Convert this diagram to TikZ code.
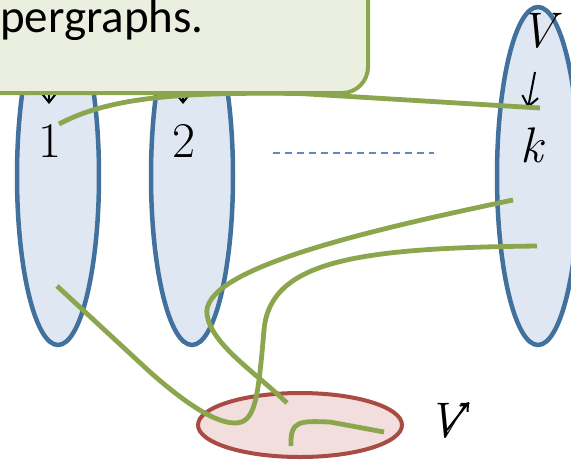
\documentclass[tikz,border=0pt]{standalone}
\usepackage{fontspec}
\newfontfamily\calib{Carlito}
\usetikzlibrary{arrows.meta}
\definecolor{setblue}{HTML}{41719C}
\definecolor{setfill}{HTML}{DEE7F2}
\definecolor{redline}{HTML}{A84B44}
\definecolor{redfill}{HTML}{F2DEDD}
\definecolor{edgegreen}{HTML}{8BA64C}
\definecolor{callfill}{HTML}{EBEFE0}
\definecolor{dashblue}{HTML}{5B8CC8}
\tikzset{
  setell/.style={draw=setblue, fill=setfill, line width=4.5pt},
  hedge/.style={draw=edgegreen, line width=4.8pt},
  lab/.style={inner sep=0pt, font=\fontsize{50}{52}\selectfont},
  thinarrow/.style={line width=2pt, -{Straight Barb[length=10pt,width=16pt,line width=2pt]}}
}
\begin{document}
\begin{tikzpicture}[x=1pt,y=-1pt]
\useasboundingbox (0,0) rectangle (571,459);
\clip (0,0) rectangle (571,459);
% vertex sets
\draw[setell] (58,176) ellipse [x radius=41, y radius=169];
\draw[setell] (192,176) ellipse [x radius=41, y radius=169];
\draw[setell] (538,176) ellipse [x radius=41, y radius=169];
\draw[draw=redline, fill=redfill, line width=4pt] (300,425) ellipse [x radius=102, y radius=32];
% labels
\node[lab] (one) at (50,141) {1};
\node[lab] (two) at (184,141) {2};
\node[lab] (vk) at (538,31) {\itshape V};
\node[lab] (k) at (532,145) {\itshape k};
\node[lab] (vp) at (446,421) {\itshape V};
\coordinate (a1s) at (49,70);
\coordinate (a1e) at (49,104);
\coordinate (a2s) at (183,70);
\coordinate (a2e) at (183,104);
\coordinate (aks) at (535,72);
\coordinate (ake) at (528,108);
\coordinate (avs) at (447,430);
\coordinate (ave) at (469,402);
\draw[thinarrow] (a1s) -- (a1e);
\draw[thinarrow] (a2s) -- (a2e);
\draw[thinarrow] (aks) -- (ake);
\draw[line width=2pt, -{Straight Barb[length=7pt,width=10pt,line width=2pt]}] (avs) -- (ave);
% dots
\coordinate (d1) at (273,153);
\coordinate (d2) at (434,153);
\draw[dashblue, line width=1.6pt, dash pattern=on 7pt off 5pt] (d1) -- (d2);
% hyperedges
\coordinate (e1a) at (59,124);
\coordinate (e1b) at (300,93.5);
\coordinate (e1c) at (540,108);
\draw[hedge] (e1a) .. controls (110,97) and (180,92) .. (e1b) -- (e1c);
\coordinate (eAa) at (513,200);
\coordinate (eAb) at (207,315);
\coordinate (eAc) at (287,403);
\draw[hedge] (eAa) .. controls (360,232) and (200,270) .. (eAb) .. controls (212,345) and (255,372) .. (eAc);
\coordinate (eBa) at (537,246);
\coordinate (eBb) at (264,330);
\coordinate (eBc) at (235,423);
\coordinate (eBd) at (150,372);
\coordinate (eBe) at (57,286);
\draw[hedge] (eBa) .. controls (360,248) and (270,260) .. (eBb) .. controls (258,400) and (255,423) .. (eBc) .. controls (215,423) and (185,403) .. (eBd) -- (eBe);
\coordinate (eCa) at (291,446);
\coordinate (eCb) at (330,422);
\coordinate (eCc) at (384,432);
\draw[hedge] (eCa) .. controls (290,420) and (300,421) .. (eCb) -- (eCc);
% callout
\draw[draw=edgegreen, fill=callfill, line width=4pt, rounded corners=26pt] (-40,-40) rectangle (368,93);
\node[anchor=base west, inner sep=0pt, font=\calib\fontsize{47}{50}\selectfont] (title) at (0,32) {pergraphs.};
\end{tikzpicture}
\end{document}
